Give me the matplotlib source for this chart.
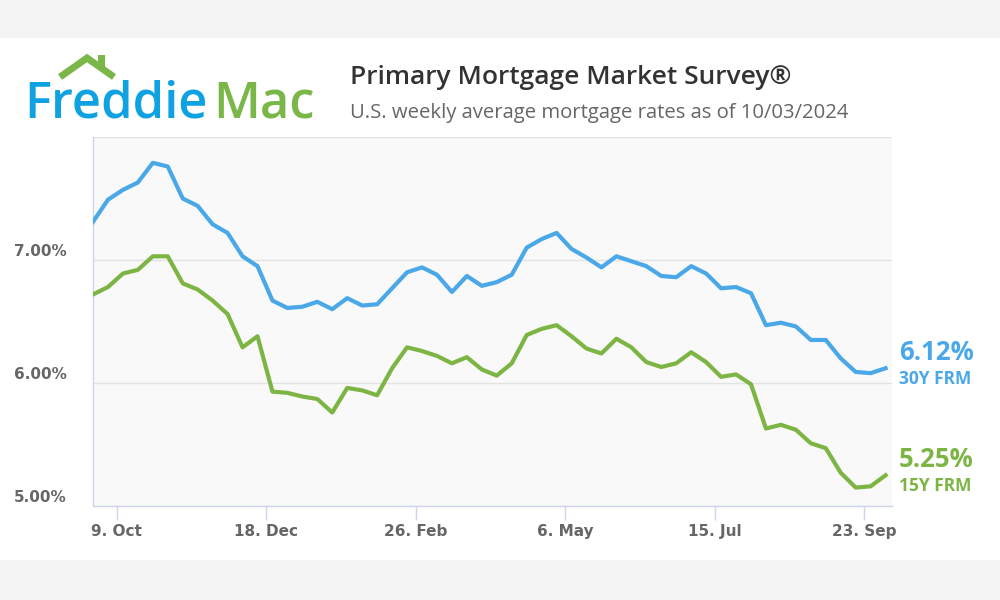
import pandas as pd
import matplotlib
matplotlib.use('Agg')
import matplotlib.pyplot as plt
import matplotlib.transforms as mtransforms
from matplotlib.lines import Line2D
from matplotlib.patches import Rectangle

# weekly PMMS survey dates
weeks = pd.date_range('2023-09-28', '2024-10-03', freq='7D')

# 30-year fixed rate mortgage (%)
rate_30y = [7.31, 7.49, 7.57, 7.63, 7.79, 7.76, 7.50, 7.44, 7.29, 7.22,
            7.03, 6.95, 6.67, 6.61, 6.62, 6.66, 6.60, 6.69, 6.63, 6.64,
            6.77, 6.90, 6.94, 6.88, 6.74, 6.87, 6.79, 6.82, 6.88, 7.10,
            7.17, 7.22, 7.09, 7.02, 6.94, 7.03, 6.99, 6.95, 6.87, 6.86,
            6.95, 6.89, 6.77, 6.78, 6.73, 6.47, 6.49, 6.46, 6.35, 6.35,
            6.20, 6.09, 6.08, 6.12]

# 15-year fixed rate mortgage (%)
rate_15y = [6.72, 6.78, 6.89, 6.92, 7.03, 7.03, 6.81, 6.76, 6.67, 6.56,
            6.29, 6.38, 5.93, 5.92, 5.89, 5.87, 5.76, 5.96, 5.94, 5.90,
            6.12, 6.29, 6.26, 6.22, 6.16, 6.21, 6.11, 6.06, 6.16, 6.39,
            6.44, 6.47, 6.38, 6.28, 6.24, 6.36, 6.29, 6.17, 6.13, 6.16,
            6.25, 6.17, 6.05, 6.07, 5.99, 5.63, 5.66, 5.62, 5.51, 5.47,
            5.27, 5.15, 5.16, 5.25]

series_names = ['30Y FRM', '15Y FRM']
tick_dates = pd.to_datetime(['2023-10-09', '2023-12-18', '2024-02-26',
                             '2024-05-06', '2024-07-15', '2024-09-23'])
tick_labels = ['9. Oct', '18. Dec', '26. Feb', '6. May', '15. Jul', '23. Sep']
y_ticks = [5.0, 6.0, 7.0]
y_labels = ['5.00%', '6.00%', '7.00%']

blue = '#4aa8e8'
green = '#7db544'
label_gray = '#666666'
font = 'Open Sans'
tick_font = 'DejaVu Sans'

fig = plt.figure(figsize=(10, 6), dpi=100)
fig.patch.set_facecolor('white')

# soft grey bands at top and bottom of the image
fig.patches.append(Rectangle((0, 1 - 38 / 600), 1, 38 / 600, transform=fig.transFigure,
                             facecolor='#f3f3f3', edgecolor='none', zorder=0))
fig.patches.append(Rectangle((0, 0), 1, 40 / 600, transform=fig.transFigure,
                             facecolor='#f3f3f3', edgecolor='none', zorder=0))

ax = fig.add_axes([0.093, 94 / 600, 0.799, 369 / 600])
ax.set_facecolor('#f9f9f9')

ax.plot(weeks, rate_30y, color=blue, lw=3, solid_joinstyle='round', zorder=3)
ax.plot(weeks, rate_15y, color=green, lw=3, solid_joinstyle='round', zorder=3)

ax.set_ylim(5, 8)
ax.set_xlim(weeks[0], pd.Timestamp('2024-10-06'))

# horizontal grid
ax.set_yticks(y_ticks + [8.0])
ax.set_yticklabels([])
ax.tick_params(axis='y', length=0)
ax.grid(axis='y', color='#e3e3e3', lw=1)
ax.set_axisbelow(True)

ytrans = mtransforms.offset_copy(ax.get_yaxis_transform(), fig=fig, x=-26, y=8, units='dots')
for v, lab in zip(y_ticks, y_labels):
    ax.text(0, v, lab, transform=ytrans, ha='right', va='center', fontsize=11,
            fontweight='bold', color=label_gray, family=tick_font)

ax.set_xticks(tick_dates)
ax.set_xticklabels(tick_labels, fontsize=11, fontweight='bold', color=label_gray,
                   family=tick_font)
ax.tick_params(axis='x', length=10, width=1, color='#ccd6eb', pad=3)

for side in ['top', 'right']:
    ax.spines[side].set_visible(False)
for side in ['left', 'bottom']:
    ax.spines[side].set_color('#ccd6eb')
    ax.spines[side].set_linewidth(1)

# end labels
for vals, name, col in [(rate_30y, series_names[0], blue), (rate_15y, series_names[1], green)]:
    tr = ax.get_yaxis_transform()
    ax.annotate(f'{vals[-1]:.2f}%', xy=(1, vals[-1]), xycoords=tr, xytext=(5, 11.5),
                textcoords='offset points', ha='left', va='center', fontsize=18.5,
                fontweight='bold', color=col, family=font, annotation_clip=False)
    ax.annotate(name, xy=(1, vals[-1]), xycoords=tr, xytext=(5, -7.5),
                textcoords='offset points', ha='left', va='center', fontsize=12.5,
                fontweight='bold', color=col, family=font, annotation_clip=False)

# header
fig.text(0.350, 1 - 78 / 600, 'Primary Mortgage Market Survey\u00ae', fontsize=19,
         fontweight='semibold', color='#333333', family=font, va='center', ha='left')
fig.text(0.350, 1 - 113 / 600, 'U.S. weekly average mortgage rates as of 10/03/2024',
         fontsize=14.6, color='#666666', family=font, va='center', ha='left')

# logo
fig.text(0.024, 1 - 118 / 600, 'Freddie', fontsize=36.5, color='#0ea2e0', family=font,
         fontweight='semibold', va='baseline', ha='left')
fig.text(0.213, 1 - 118 / 600, 'Mac', fontsize=36.5, color='#7ab648', family=font,
         fontweight='semibold', va='baseline', ha='left')
roof_x = [60 / 1000, 87 / 1000, 114 / 1000]
roof_y = [1 - 77 / 600, 1 - 58 / 600, 1 - 77 / 600]
fig.lines.append(Line2D(roof_x, roof_y, transform=fig.transFigure, color='#7ab648', lw=5,
                        solid_joinstyle='miter', solid_capstyle='butt'))
fig.patches.append(Rectangle((98 / 1000, 1 - 67 / 600), 7 / 1000, 12 / 600,
                             transform=fig.transFigure, facecolor='#7ab648', edgecolor='none'))

fig.savefig('out.png', dpi=100)
